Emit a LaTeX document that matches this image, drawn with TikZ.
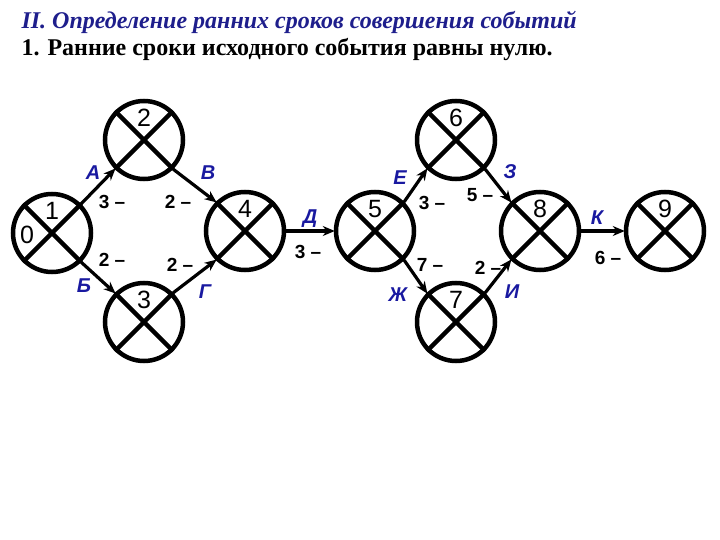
\documentclass[tikz,border=0pt]{standalone}
\usepackage{fontspec}
\setmainfont{Liberation Serif}
\newfontfamily\lsans{Liberation Sans}
\usetikzlibrary{arrows.meta}
\definecolor{tblue}{RGB}{30,30,140}
\definecolor{lblue}{RGB}{25,25,160}
\begin{document}
\begin{tikzpicture}[x=1pt,y=-1pt,
  ev/.style={circle,draw,line width=4.5pt,minimum size=78pt,inner sep=0pt},
  num/.style={font=\lsans\fontsize{25}{25}\selectfont},
  act/.style={font=\lsans\bfseries\itshape\fontsize{20}{20}\selectfont,text=lblue},
  dur/.style={font=\lsans\bfseries\fontsize{19}{19}\selectfont},
  arr/.style={line width=3.2pt,-{Stealth[length=12pt,width=10pt]},shorten >=-1pt}]
\useasboundingbox (0,0) rectangle (720,540);
\node[anchor=west,font=\bfseries\itshape\fontsize{24}{24}\selectfont,text=tblue] (t1) at (18,22) {II. Определение ранних сроков совершения событий};
\node[anchor=west,font=\bfseries\fontsize{24}{24}\selectfont] (t2) at (18,50) {1. Ранние сроки исходного события равны нулю.};
\foreach \n/\x/\y in {1/52/233,2/144/140,3/144/322,4/245/231,5/375/231,6/456/140,7/456/322,8/540/231,9/665/231}{
  \node[ev] (e\n) at (\x,\y) {};
  \draw[line width=4.5pt] (e\n.45) -- (e\n.225) (e\n.135) -- (e\n.-45);
  \node[num] (n\n) at (\x,\y-22) {\n};
}
\node[num] (z1) at (27,235) {0};
\draw[arr] (e1.45) -- (e2.225);
\draw[arr] (e1.-45) -- (e3.135);
\draw[arr] (e2.-45) -- (e4.135);
\draw[arr] (e3.45) -- (e4.225);
\draw[arr] (e4.east) -- (e5.west);
\draw[arr] (e5.45) -- (e6.225);
\draw[arr] (e5.-45) -- (e7.135);
\draw[arr] (e6.-45) -- (e8.135);
\draw[arr] (e7.45) -- (e8.225);
\draw[arr] (e8.east) -- (e9.west);
\foreach \t/\x/\y in {А/93/173,В/208/173,Б/84/286,Г/205/292,Д/310/219,Е/400/178,З/510/172,Ж/398/295,И/512/292,К/597/218}
  \node[act] at (\x,\y) {\t};
\foreach \t/\x/\y in {3/112/202,2/178/202,2/112/260,2/180/265,3/308/252,3/432/203,5/480/195,7/430/265,2/488/268,6/608/258}
  \node[dur] at (\x,\y) {\t\ –};
\end{tikzpicture}
\end{document}
